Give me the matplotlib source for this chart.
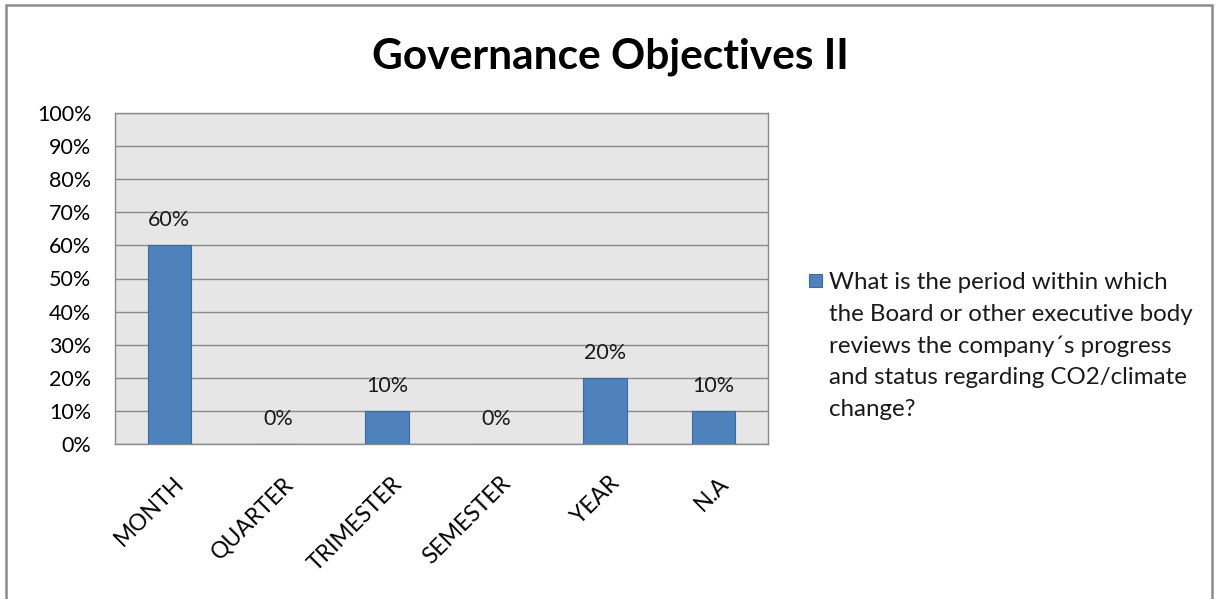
import matplotlib
matplotlib.use("Agg")
import matplotlib.pyplot as plt
from matplotlib.patches import Rectangle
from matplotlib.transforms import ScaledTranslation

categories = ["MONTH", "QUARTER", "TRIMESTER", "SEMESTER", "YEAR", "N.A"]
values = [60, 0, 10, 0, 20, 10]
y_ticks = [0, 10, 20, 30, 40, 50, 60, 70, 80, 90, 100]
series_label = ("What is the period within which\n"
                "the Board or other executive body\n"
                "reviews the company\u00b4s progress\n"
                "and status regarding CO2/climate\n"
                "change?")
title = "Governance Objectives II"

plt.rcParams['font.family'] = ['Lato', 'DejaVu Sans']

W, H = 1222, 599
fig = plt.figure(figsize=(W / 100, H / 100), dpi=100)

# outer chart frame
fig.patches.append(Rectangle((6 / W, -0.01), (1212 - 6) / W, 1 - 5 / H + 0.01,
                             transform=fig.transFigure, fill=False,
                             edgecolor="#8c8c8c", linewidth=1.8))

ax = fig.add_axes([115 / W, 1 - 444 / H, (768 - 115) / W, (444 - 113) / H])
ax.set_facecolor("#e6e6e6")
x = list(range(len(categories)))
ax.bar(x, values, width=0.4, color="#4f81bd", edgecolor="#3d6a9e", linewidth=0.8,
       zorder=3)
ax.set_xlim(-0.5, len(categories) - 0.5)
ax.set_ylim(0, 100)
ax.set_yticks(y_ticks)
ax.set_yticklabels([f"{v}%" for v in y_ticks], fontsize=15.5)
ax.yaxis.grid(True, color="#8a8a8a", linewidth=1.0, zorder=1)
ax.tick_params(axis="y", length=0, pad=17)
ax.tick_params(axis="x", length=0)
for s in ax.spines.values():
    s.set_color("#8a8a8a")
    s.set_linewidth(1.0)

ax.set_xticks(x)
ax.set_xticklabels(categories, fontsize=16.5, rotation=45, ha="right", va="top",
                   rotation_mode="anchor")
offset = ScaledTranslation(4 / 100, -24 / 100, fig.dpi_scale_trans)
for lab in ax.get_xticklabels():
    lab.set_transform(lab.get_transform() + offset)

for xi, v in zip(x, values):
    ax.annotate(f"{v}%", (xi, v), xytext=(0, 25), textcoords="offset pixels",
                ha="center", va="center", fontsize=15.5, color="#1a1a1a")

fig.text(610 / W, 1 - 57 / H, title, ha="center", va="center",
         fontsize=30.5, fontweight="bold", color="black")

# legend entry
fig.patches.append(Rectangle((809 / W, 1 - 287 / H), 13 / W, 13 / H,
                             transform=fig.transFigure, facecolor="#4f81bd",
                             edgecolor="#3d6a9e", linewidth=0.8))
fig.text(829 / W, 1 - 272 / H, series_label, ha="left", va="top",
         fontsize=17.4, linespacing=1.62, color="#1a1a1a")

fig.savefig("out.png", dpi=100)
